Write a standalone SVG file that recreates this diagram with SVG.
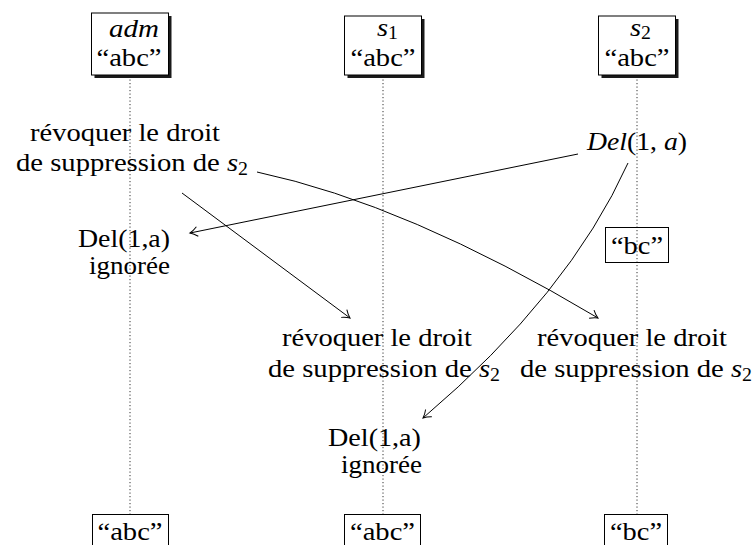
<svg xmlns="http://www.w3.org/2000/svg" width="755" height="545" viewBox="0 0 755 545">
<style>
.t{font-family:'Liberation Serif','DejaVu Serif',serif;font-size:26px;fill:#000}
.i{font-style:italic}
.sub{font-size:18px}
.box{fill:#fff;stroke:#000;stroke-width:1}
.obox{fill:none;stroke:#000;stroke-width:1}
.shadow{fill:#1a1a1a}
.life{stroke:#333;stroke-width:1;stroke-dasharray:1.2 2.3;fill:none}
.arr{stroke:#000;stroke-width:1;fill:none;marker-end:url(#tip)}
</style>
<defs>
<marker id="tip" markerUnits="userSpaceOnUse" markerWidth="14" markerHeight="14" viewBox="-10 -7 12 14" refX="0" refY="0" orient="auto">
<path d="M-7.5,-4.8 C-5,-2.6 -2,-0.8 0,0 C-2,0.8 -5,2.6 -7.5,4.8" fill="none" stroke="#000" stroke-width="1"/>
</marker>
</defs>
<rect width="755" height="545" fill="#fff"/>
<g id="lifelines">
<line class="life" x1="130" y1="76" x2="130" y2="514"/>
<line class="life" x1="383" y1="76" x2="383" y2="514"/>
<line class="life" x1="637" y1="76" x2="637" y2="514"/>
</g>
<g id="adm">
<rect class="shadow" x="94.5" y="16" width="77" height="62"/>
<rect class="box" x="91.5" y="13" width="77" height="62"/>
<text class="t i" x="109" y="37" textLength="50" lengthAdjust="spacingAndGlyphs">adm</text>
<text class="t" x="96.5" y="66" textLength="65" lengthAdjust="spacingAndGlyphs">“abc”</text>
</g>
<g id="s1">
<rect class="shadow" x="347.5" y="19" width="77" height="59"/>
<rect class="box" x="344.5" y="16" width="77" height="59"/>
<text class="t" x="377" y="36" textLength="21" lengthAdjust="spacingAndGlyphs"><tspan class="i">s</tspan><tspan class="sub" dy="3">1</tspan></text>
<text class="t" x="350.5" y="66" textLength="65" lengthAdjust="spacingAndGlyphs">“abc”</text>
</g>
<g id="s2">
<rect class="shadow" x="601.5" y="19" width="77" height="59"/>
<rect class="box" x="598.5" y="16" width="77" height="59"/>
<text class="t" x="630" y="36" textLength="21" lengthAdjust="spacingAndGlyphs"><tspan class="i">s</tspan><tspan class="sub" dy="3">2</tspan></text>
<text class="t" x="604.5" y="66" textLength="65" lengthAdjust="spacingAndGlyphs">“abc”</text>
</g>
<g id="revoke-adm">
<text class="t" x="30" y="141" textLength="190" lengthAdjust="spacingAndGlyphs">révoquer le droit</text>
<text class="t" x="16" y="171" textLength="232" lengthAdjust="spacingAndGlyphs">de suppression de <tspan class="i">s</tspan><tspan class="sub" dy="4">2</tspan></text>
</g>
<g id="del-s2">
<text class="t" x="587" y="150" textLength="100" lengthAdjust="spacingAndGlyphs"><tspan class="i">Del</tspan>(1, <tspan class="i">a</tspan>)</text>
</g>
<g id="ignored-adm">
<text class="t" x="78" y="247" textLength="92" lengthAdjust="spacingAndGlyphs">Del(1,a)</text>
<text class="t" x="89" y="274" textLength="81" lengthAdjust="spacingAndGlyphs">ignorée</text>
</g>
<g id="state-bc">
<rect class="obox" x="605.5" y="227.5" width="63" height="35"/>
<text class="t" x="611" y="254" textLength="52" lengthAdjust="spacingAndGlyphs">“bc”</text>
</g>
<g id="revoke-s1">
<text class="t" x="282" y="346" textLength="190" lengthAdjust="spacingAndGlyphs">révoquer le droit</text>
<text class="t" x="268" y="377" textLength="232" lengthAdjust="spacingAndGlyphs">de suppression de <tspan class="i">s</tspan><tspan class="sub" dy="4">2</tspan></text>
</g>
<g id="revoke-s2">
<text class="t" x="537" y="346" textLength="190" lengthAdjust="spacingAndGlyphs">révoquer le droit</text>
<text class="t" x="520" y="377" textLength="232" lengthAdjust="spacingAndGlyphs">de suppression de <tspan class="i">s</tspan><tspan class="sub" dy="4">2</tspan></text>
</g>
<g id="ignored-s1">
<text class="t" x="328" y="446" textLength="93" lengthAdjust="spacingAndGlyphs">Del(1,a)</text>
<text class="t" x="341" y="473" textLength="81" lengthAdjust="spacingAndGlyphs">ignorée</text>
</g>
<g id="end-adm">
<rect class="obox" x="92.5" y="514.5" width="76" height="40"/>
<text class="t" x="97.5" y="540" textLength="65" lengthAdjust="spacingAndGlyphs">“abc”</text>
</g>
<g id="end-s1">
<rect class="obox" x="344.5" y="514.5" width="76" height="40"/>
<text class="t" x="350" y="540" textLength="65" lengthAdjust="spacingAndGlyphs">“abc”</text>
</g>
<g id="end-s2">
<rect class="obox" x="604.5" y="514.5" width="63" height="40"/>
<text class="t" x="610" y="540" textLength="52" lengthAdjust="spacingAndGlyphs">“bc”</text>
</g>
<g id="connectors">
<path class="arr" d="M182,193 L350,318"/>
<path class="arr" d="M257,172 Q407,204 598,318"/>
<path class="arr" d="M578,154 L190,233"/>
<path class="arr" d="M628,163 Q569,294 423,418"/>
</g>
</svg>
